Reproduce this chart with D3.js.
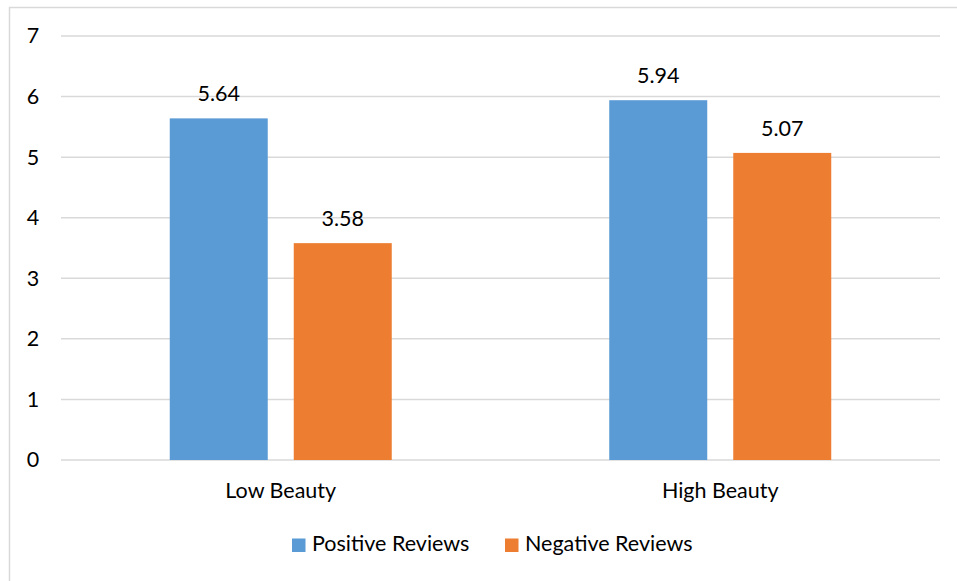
<!DOCTYPE html>
<html>
<head>
<meta charset="utf-8">
<script src="https://cdn.jsdelivr.net/npm/d3@7"></script>
<style>
  html, body { margin: 0; padding: 0; background: #fff; }
  svg { display: block; }
  text { font-family: Lato, "Open Sans", sans-serif; fill: #000; }
</style>
</head>
<body>
<svg id="chart" width="957" height="581"></svg>
<script>
// Chart data
const categories = ["Low Beauty", "High Beauty"];
const seriesNames = ["Positive Reviews", "Negative Reviews"];
const positiveValues = [5.64, 5.94];
const negativeValues = [3.58, 5.07];
const yTicks = [0, 1, 2, 3, 4, 5, 6, 7];
const seriesColors = ["#5B9BD5", "#ED7D31"];

const svg = d3.select("#chart");
const W = 957, H = 581;
const FS = 21.5;

// outer frame
svg.append("rect")
  .attr("x", 9.5).attr("y", 7.5)
  .attr("width", W + 10).attr("height", H + 10)
  .attr("fill", "#fff").attr("stroke", "#d9d9d9").attr("stroke-width", 1.5);

const plot = { left: 61, right: 940, top: 36, bottom: 460 };

const x0 = d3.scaleBand().domain(categories).range([plot.left, plot.right]).padding(0);
const groupWidth = 222;
const x1 = d3.scaleBand().domain(seriesNames).range([0, groupWidth]).paddingInner(26 / 124).paddingOuter(0);
const y = d3.scaleLinear().domain([0, 7]).range([plot.bottom, plot.top]);

// gridlines
svg.append("g")
  .selectAll("line").data(yTicks).join("line")
  .attr("x1", plot.left).attr("x2", plot.right)
  .attr("y1", d => y(d)).attr("y2", d => y(d))
  .attr("stroke", "#d9d9d9").attr("stroke-width", 1.5);

// y axis labels
const yAxis = d3.axisLeft(y).tickValues(yTicks).tickSize(0).tickPadding(0).tickFormat(d3.format("d"));
const gy = svg.append("g").attr("transform", `translate(${plot.left - 28},0)`).call(yAxis);
gy.select(".domain").remove();
gy.selectAll("text").attr("font-size", FS).attr("text-anchor", "middle").attr("fill", "#000");

// x axis labels
const xAxis = d3.axisBottom(x0).tickSize(0).tickPadding(0);
const gx = svg.append("g").call(xAxis);
gx.select(".domain").remove();
gx.selectAll("text").attr("font-size", FS).attr("fill", "#000").attr("dy", null).attr("y", 498);

const rows = categories.map((c, i) => ({
  category: c,
  values: [
    { series: seriesNames[0], value: positiveValues[i], color: seriesColors[0] },
    { series: seriesNames[1], value: negativeValues[i], color: seriesColors[1] }
  ]
}));

const groups = svg.append("g").selectAll("g").data(rows).join("g")
  .attr("transform", d => `translate(${x0(d.category) + x0.bandwidth() / 2 - groupWidth / 2},0)`);

groups.selectAll("rect").data(d => d.values).join("rect")
  .attr("x", d => x1(d.series))
  .attr("width", x1.bandwidth())
  .attr("y", d => y(d.value))
  .attr("height", d => y(0) - y(d.value))
  .attr("fill", d => d.color);

groups.selectAll("text").data(d => d.values).join("text")
  .attr("x", d => x1(d.series) + x1.bandwidth() / 2)
  .attr("y", d => y(d.value) - 17)
  .attr("text-anchor", "middle")
  .attr("font-size", FS)
  .text(d => d.value.toFixed(2));

// legend
const legend = svg.append("g").attr("transform", "translate(292,538.5)");
const items = [
  { name: seriesNames[0], color: seriesColors[0], x: 0 },
  { name: seriesNames[1], color: seriesColors[1], x: 213 }
];
const li = legend.selectAll("g").data(items).join("g")
  .attr("transform", d => `translate(${d.x},0)`);
li.append("rect").attr("width", 13.5).attr("height", 13.5).attr("fill", d => d.color);
li.append("text").attr("x", 20).attr("y", 12.5).attr("font-size", FS).text(d => d.name);
</script>
</body>
</html>
